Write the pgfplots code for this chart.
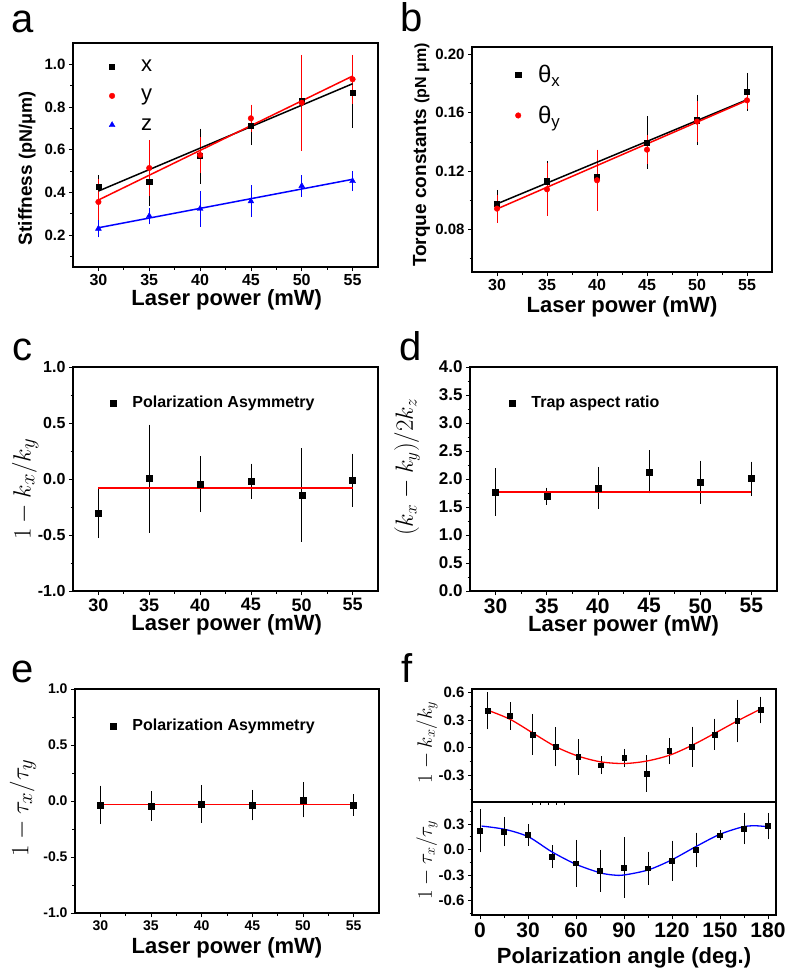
\documentclass[border=0pt]{standalone}
\usepackage{fontspec}
\setmainfont{Liberation Sans}
\usepackage{pgfplots}
\pgfplotsset{compat=1.18}

\newcommand{\fs}[1]{\fontsize{#1}{#1}\selectfont}

\pgfplotsset{
  panel/.style={
    scale only axis, anchor=south west,
    axis line style={line width=1.2pt},
    tick align=outside, tick pos=left,
    major tick length=4pt, minor tick length=2.5pt,
    every tick/.style={black, line width=0.8pt},
    /pgf/number format/assume math mode=true,
    xmin=27.5, xmax=57.5,
    xtick={30,35,...,55}, minor xtick={32.5,37.5,...,52.5},
    clip=false,
    legend cell align=left,
    legend style={draw=none, fill=none, anchor=north west,
      /tikz/every odd column/.append style={column sep=14pt}},
  },
  onedec/.style={yticklabel style={/pgf/number format/fixed, /pgf/number format/fixed zerofill, /pgf/number format/precision=1}},
  twodec/.style={yticklabel style={/pgf/number format/fixed, /pgf/number format/fixed zerofill, /pgf/number format/precision=2}},
  ebars/.style={error bars/.cd, y dir=both, y explicit,
    error bar style={line width=0.6pt, #1},
    error mark options={line width=0.6pt, mark size=3pt, #1}},
  fitline/.style={draw=#1, color=#1, line width=1.5pt, forget plot},
}

\begin{document}
\begin{tikzpicture}
\useasboundingbox (0,0) rectangle (787pt,-972pt);

% panel letters
\node[anchor=base west, font=\fs{40}] at (8pt,-32pt) {a};
\node[anchor=base west, font=\fs{40}] at (397pt,-31pt) {b};
\node[anchor=base west, font=\fs{40}] at (9pt,-360pt) {c};
\node[anchor=base west, font=\fs{40}] at (396pt,-360pt) {d};
\node[anchor=base west, font=\fs{40}] at (8pt,-682pt) {e};
\node[anchor=base west, font=\fs{40}] at (398pt,-682pt) {f};

% ---------- a ----------
\begin{axis}[panel, onedec, at={(73pt,-267pt)}, width=305pt, height=224pt,
  ymin=0.05, ymax=1.1, ytick={0.2,0.4,...,1.0}, minor ytick={0.1,0.3,...,0.9},
  yticklabel style={font=\fs{15}\bfseries},
  xticklabel style={font=\fs{16}\bfseries},
  xlabel={\fs{22}\bfseries Laser power (mW)},
  xlabel style={at={(axis description cs:0.504,-0.147)}, anchor=center},
  ylabel={\bfseries\fs{19}Stiffness \fs{18}(pN/μm)},
  ylabel style={at={(axis description cs:-0.151,0.44)}, anchor=center},
  legend style={at={(0.108,0.942)}, font=\fs{22}, row sep=12pt,
    /tikz/every odd column/.append style={column sep=24pt}}]
\addplot[only marks, mark=square*, mark size=2.6pt, black, ebars=black] coordinates {
  (30,0.425) +- (0,0.04) (35,0.448) +- (0,0.098) (40,0.570) +- (0,0.115)
  (45,0.711) +- (0,0.076) (50,0.830) +- (0,0.092) (55,0.866) +- (0,0.15)};
\addplot[only marks, mark=*, mark size=2.8pt, red, ebars=red] coordinates {
  (30,0.355) +- (0,0.094) (35,0.514) +- (0,0.117) (40,0.575) +- (0,0.07)
  (45,0.747) +- (0,0.05) (50,0.820) +- (0,0.21) (55,0.930) +- (0,0.10)};
\addplot[only marks, mark=triangle*, mark size=3.4pt, blue, ebars=blue] coordinates {
  (30,0.230) +- (0,0.027) (35,0.289) +- (0,0.025) (40,0.323) +- (0,0.07)
  (45,0.358) +- (0,0.06) (50,0.430) +- (0,0.037) (55,0.453) +- (0,0.033)};
\legend{x,y,z}
\addplot[fitline=black] coordinates {(30,0.406) (55,0.909)};
\addplot[fitline=red] coordinates {(30,0.364) (55,0.945)};
\addplot[fitline=blue] coordinates {(30,0.234) (55,0.461)};
\end{axis}

% ---------- b ----------
\begin{axis}[panel, twodec, at={(472pt,-272pt)}, width=300pt, height=225pt,
  ymin=0.0507, ymax=0.2052, ytick={0.08,0.12,0.16,0.20}, minor ytick={0.06,0.10,0.14,0.18},
  yticklabel style={font=\fs{15}\bfseries},
  xticklabel style={font=\fs{16}\bfseries},
  xlabel={\fs{22}\bfseries Laser power (mW)},
  xlabel style={at={(axis description cs:0.5,-0.156)}, anchor=center},
  ylabel={\bfseries\fs{19}Torque constants \fs{16}(pN μm)},
  ylabel style={at={(axis description cs:-0.168,0.52)}, anchor=center},
  legend style={at={(0.134,0.938)}, font=\fs{24}, row sep=18pt,
    /tikz/every odd column/.append style={column sep=15pt}}]
\addplot[only marks, mark=square*, mark size=2.6pt, black, ebars=black] coordinates {
  (30,0.0976) +- (0,0.0075) (35,0.1130) +- (0,0.012) (40,0.1160) +- (0,0.0125)
  (45,0.1395) +- (0,0.016) (50,0.1550) +- (0,0.0152) (55,0.1744) +- (0,0.011)};
\addplot[only marks, mark=*, mark size=2.8pt, red, ebars=red] coordinates {
  (30,0.0942) +- (0,0.0075) (35,0.1075) +- (0,0.016) (40,0.1137) +- (0,0.019)
  (45,0.1347) +- (0,0.008) (50,0.1540) +- (0,0.012) (55,0.1686) +- (0,0.004)};
\legend{θ\textsubscript{x},θ\textsubscript{y}}
\addplot[fitline=black] coordinates {(30,0.0975) (55,0.1690)};
\addplot[fitline=red] coordinates {(30,0.0940) (55,0.1685)};
\end{axis}

% ---------- c ----------
\begin{axis}[panel, onedec, at={(73pt,-591pt)}, width=305pt, height=224pt,
  ymin=-1, ymax=1, ytick={-1,-0.5,...,1}, minor ytick={-0.75,-0.25,0.25,0.75},
  yticklabel style={font=\fs{16}\bfseries},
  xticklabel style={font=\fs{18}\bfseries},
  xlabel={\fs{22}\bfseries Laser power (mW)},
  xlabel style={at={(axis description cs:0.504,-0.152)}, anchor=center},
  ylabel={\fs{28}$1-k_x/k_y$},
  ylabel style={at={(axis description cs:-0.157,0.455)}, anchor=center},
  legend style={at={(0.112,0.888)}, font=\fs{16}\bfseries}]
\addplot[only marks, mark=square*, mark size=3pt, black, ebars=black] coordinates {
  (30,-0.302) +- (0,0.2) (35,0.004) +- (0,0.455) (40,-0.046) +- (0,0.223)
  (45,-0.019) +- (0,0.13) (50,-0.144) +- (0,0.39) (55,-0.010) +- (0,0.21)};
\legend{Polarization Asymmetry}
\addplot[fitline=red] coordinates {(30,-0.079) (55,-0.079)};
\end{axis}

% ---------- d ----------
\begin{axis}[panel, onedec, at={(470pt,-591pt)}, width=307pt, height=224pt,
  ymin=0, ymax=4, ytick={0,0.5,...,4}, minor ytick={0.25,0.75,...,3.75},
  yticklabel style={font=\fs{17}\bfseries},
  xticklabel style={font=\fs{21}\bfseries},
  xlabel={\fs{22}\bfseries Laser power (mW)},
  xlabel style={at={(axis description cs:0.5,-0.155)}, anchor=center},
  ylabel={\fs{24}$(k_x-k_y)/2k_z$},
  ylabel style={at={(axis description cs:-0.205,0.553)}, anchor=center},
  legend style={at={(0.118,0.888)}, font=\fs{16}\bfseries}]
\addplot[only marks, mark=square*, mark size=3pt, black, ebars=black] coordinates {
  (30,1.771) +- (0,0.37) (35,1.694) +- (0,0.10) (40,1.842) +- (0,0.32)
  (45,2.128) +- (0,0.33) (50,1.943) +- (0,0.33) (55,2.009) +- (0,0.25)};
\legend{Trap aspect ratio}
\addplot[fitline=red, line width=1.9pt] coordinates {(30,1.77) (55,1.77)};
\end{axis}

% ---------- e ----------
\begin{axis}[panel, onedec, at={(75pt,-913pt)}, width=304pt, height=224pt,
  ymin=-1, ymax=1, ytick={-1,-0.5,...,1}, minor ytick={-0.75,-0.25,0.25,0.75},
  yticklabel style={font=\fs{14}\bfseries},
  xticklabel style={font=\fs{14}\bfseries},
  xlabel={\fs{22}\bfseries Laser power (mW)},
  xlabel style={at={(axis description cs:0.5,-0.156)}, anchor=center},
  ylabel={\fs{28}$1-\tau_x/\tau_y$},
  ylabel style={at={(axis description cs:-0.171,0.469)}, anchor=center},
  legend style={at={(0.106,0.884)}, font=\fs{16}\bfseries}]
\addplot[only marks, mark=square*, mark size=3pt, black, ebars=black] coordinates {
  (30,-0.034) +- (0,0.145) (35,-0.043) +- (0,0.105) (40,-0.028) +- (0,0.14)
  (45,-0.037) +- (0,0.11) (50,0.010) +- (0,0.13) (55,-0.037) +- (0,0.07)};
\legend{Polarization Asymmetry}
\addplot[fitline=red] coordinates {(30,-0.03) (55,-0.03)};
\end{axis}

% ---------- f (top) ----------
\begin{axis}[panel, onedec, at={(472pt,-802pt)}, width=304pt, height=113pt,
  xmin=-5, xmax=185, xmajorticks=false, xminorticks=false,
  ymin=-0.59, ymax=0.637, ytick={-0.3,0,0.3,0.6}, minor ytick={-0.45,-0.15,0.15,0.45},
  yticklabel style={font=\fs{15}\bfseries},
  ylabel={\fs{22}$1-k_x/k_y$},
  ylabel style={at={(axis description cs:-0.148,0.53)}, anchor=center}]
\addplot[only marks, mark=square*, mark size=2.4pt, black, ebars=black] coordinates {
  (4.6,0.40) +- (0,0.17) (18.7,0.345) +- (0,0.117) (32.9,0.145) +- (0,0.19)
  (47.2,0.010) +- (0,0.18) (61.4,-0.10) +- (0,0.16) (75.5,-0.19) +- (0,0.065)
  (90.1,-0.11) +- (0,0.065) (104,-0.28) +- (0,0.165) (118.2,-0.037) +- (0,0.11)
  (132.5,0.010) +- (0,0.185) (146.7,0.145) +- (0,0.137) (160.8,0.29) +- (0,0.2)
  (175.4,0.41) +- (0,0.113)};
\addplot[red, line width=1.3pt, smooth] coordinates {
  (4.2,0.411) (18.7,0.309) (33.3,0.156) (47.4,0.010) (61.4,-0.092) (75.5,-0.154)
  (90,-0.172) (104,-0.146) (118.6,-0.081) (132.8,0.028) (146.7,0.156)
  (160.8,0.290) (175.2,0.418)};
\end{axis}

% ---------- f (bottom) ----------
\begin{axis}[panel, onedec, at={(472pt,-915pt)}, width=304pt, height=113pt,
  xmin=-5, xmax=185, xtick={0,30,...,180}, minor xtick={15,45,...,165},
  ymin=-0.77, ymax=0.56, ytick={-0.6,-0.3,0,0.3}, minor ytick={-0.75,-0.45,-0.15,0.15,0.45},
  yticklabel style={font=\fs{15}\bfseries},
  xticklabel style={font=\fs{21}\bfseries},
  xlabel={\fs{22}\bfseries Polarization angle (deg.)},
  xlabel style={at={(axis description cs:0.5,-0.38)}, anchor=center},
  ylabel={\fs{22}$1-\tau_x/\tau_y$},
  ylabel style={at={(axis description cs:-0.148,0.487)}, anchor=center}]
\addplot[only marks, mark=square*, mark size=2.4pt, black, ebars=black] coordinates {
  (0,0.222) +- (0,0.22) (15,0.210) +- (0,0.133) (30,0.171) +- (0,0.09)
  (45,-0.083) +- (0,0.10) (60,-0.160) +- (0,0.24) (75,-0.248) +- (0,0.21)
  (90,-0.210) +- (0,0.32) (105,-0.220) +- (0,0.16) (120,-0.130) +- (0,0.20)
  (135,-0.005) +- (0,0.17) (150,0.170) +- (0,0.02) (165,0.250) +- (0,0.15)
  (180,0.277) +- (0,0.12)};
\addplot[blue, line width=1.3pt, smooth] coordinates {
  (1,0.277) (15.6,0.238) (30.2,0.151) (44.8,-0.025) (60,-0.173) (74.9,-0.272)
  (83.2,-0.299) (90,-0.299) (105,-0.240) (119.6,-0.123) (134.8,0.034)
  (149.8,0.179) (164.4,0.268) (172.7,0.280) (180,0.268)};
\end{axis}
\end{tikzpicture}
\end{document}
